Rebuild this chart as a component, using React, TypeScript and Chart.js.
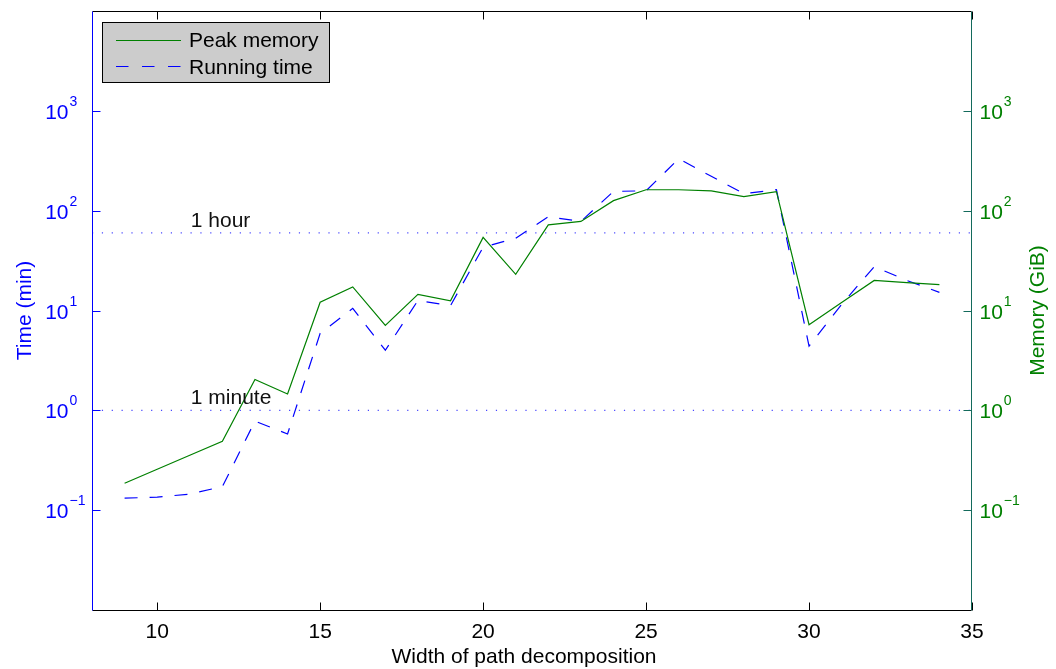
import { useEffect, useRef } from "react";
import { Chart, registerables } from "chart.js";

Chart.register(...registerables);

// Width of the path decomposition (x values)
const widths = [9, 10, 11, 12, 13, 14, 15, 16, 17, 18, 19, 20, 21, 22, 23, 24, 25, 26, 27, 28, 29, 30, 31, 32, 33, 34];

// Running time in minutes
const runningTime = [
  0.132, 0.135, 0.145, 0.172, 0.78, 0.58, 5.9, 10.5, 4.0, 12.6, 11.2, 43, 53, 87, 78,
  156, 158, 331, 221, 148, 162, 4.4, 11.5, 27.5, 20, 15.2,
];

// Peak memory in GiB
const peakMemory = [
  0.186, 0.257, 0.355, 0.49, 2.04, 1.46, 12.1, 17.2, 7.1, 14.5, 12.5, 54, 23, 72, 78,
  126, 162, 162, 158, 138, 155, 7.2, 12, 20, 19, 18.2,
];

const xTicks = [10, 15, 20, 25, 30, 35];
const yTicks = [0.1, 1, 10, 100, 1000];
const yExponents = ["\u22121", "0", "1", "2", "3"];

// Reference levels on the time axis (minutes)
const thresholdValues = [60, 1];
const thresholdLabels = ["1 hour", "1 minute"];

const seriesLabels = ["Peak memory", "Running time"];
const GREEN = "#008000";
const BLUE = "#0000ff";
const TEAL = "#136a5c";
const FONT = '"Liberation Sans", Arial, Helvetica, sans-serif';

const axesFrame = {
  id: "axesFrame",
  afterDraw(chart: any) {
    const { ctx, chartArea: a, scales } = chart;
    const xs = scales.x;
    const yl = scales.yTime;
    const yr = scales.yMem;
    const L = Math.round(a.left) + 0.5;
    const R = Math.round(a.right) - 0.5;
    const T = Math.round(a.top) + 0.5;
    const B = Math.round(a.bottom) + 0.5;
    const midY = (a.top + a.bottom) / 2;

    const seg = (x1: number, y1: number, x2: number, y2: number) => {
      ctx.beginPath();
      ctx.moveTo(x1, y1);
      ctx.lineTo(x2, y2);
      ctx.stroke();
    };

    ctx.save();
    ctx.lineWidth = 1;
    ctx.setLineDash([]);

    // top and bottom frame with inward x ticks
    ctx.strokeStyle = "#000";
    seg(L, T, R, T);
    seg(L, B, R, B);
    xTicks.forEach((v) => {
      const px = Math.round(xs.getPixelForValue(v)) + 0.5;
      seg(px, B, px, B - 8);
      seg(px, T, px, T + 8);
    });

    // left (time) and right (memory) axes with inward ticks
    ctx.strokeStyle = BLUE;
    seg(L, T, L, B);
    yTicks.forEach((v) => {
      const py = Math.round(yl.getPixelForValue(v)) + 0.5;
      seg(L, py, L + 8, py);
    });
    ctx.strokeStyle = TEAL;
    seg(R, T, R, B);
    yTicks.forEach((v) => {
      const py = Math.round(yr.getPixelForValue(v)) + 0.5;
      seg(R, py, R - 8, py);
    });

    // x tick labels
    ctx.fillStyle = "#000";
    ctx.font = `21px ${FONT}`;
    ctx.textAlign = "center";
    ctx.textBaseline = "alphabetic";
    xTicks.forEach((v) => {
      ctx.fillText(String(v), xs.getPixelForValue(v), B + 27);
    });
    ctx.fillText("Width of path decomposition", (a.left + a.right) / 2 - 8, B + 52);

    // y tick labels as powers of ten
    yTicks.forEach((v, i) => {
      const pl = yl.getPixelForValue(v);
      ctx.fillStyle = BLUE;
      ctx.font = `21px ${FONT}`;
      ctx.textAlign = "right";
      ctx.fillText("10", L - 24, pl + 8);
      ctx.font = `14px ${FONT}`;
      ctx.textAlign = "left";
      ctx.fillText(yExponents[i], L - 23, pl - 5);

      const pr = yr.getPixelForValue(v);
      ctx.fillStyle = GREEN;
      ctx.font = `21px ${FONT}`;
      ctx.textAlign = "left";
      ctx.fillText("10", R + 8, pr + 8);
      const w = ctx.measureText("10").width;
      ctx.font = `14px ${FONT}`;
      ctx.fillText(yExponents[i], R + 9 + w, pr - 5);
    });

    // axis titles
    ctx.font = `21px ${FONT}`;
    ctx.textAlign = "center";
    ctx.save();
    ctx.translate(31, midY);
    ctx.rotate(-Math.PI / 2);
    ctx.fillStyle = BLUE;
    ctx.fillText("Time (min)", 0, 0);
    ctx.restore();
    ctx.save();
    ctx.translate(R + 72, midY);
    ctx.rotate(-Math.PI / 2);
    ctx.fillStyle = GREEN;
    ctx.fillText("Memory (GiB)", 0, 0);
    ctx.restore();

    // reference level captions
    ctx.fillStyle = "#111";
    ctx.textAlign = "left";
    thresholdValues.forEach((v, i) => {
      ctx.fillText(thresholdLabels[i], xs.getPixelForValue(11) + 1, yl.getPixelForValue(v) - 6);
    });

    // legend box
    const lx = 102.5, ly = 22.5, lw = 227, lh = 60;
    ctx.fillStyle = "#cccccc";
    ctx.fillRect(lx, ly, lw, lh);
    ctx.strokeStyle = "#000";
    ctx.strokeRect(lx, ly, lw, lh);
    const rows = [40.5, 66.5];
    ctx.lineWidth = 1.2;
    ctx.strokeStyle = GREEN;
    seg(116, rows[0], 181, rows[0]);
    ctx.strokeStyle = BLUE;
    ctx.setLineDash([12.5, 13.5]);
    seg(116, rows[1], 181, rows[1]);
    ctx.setLineDash([]);
    ctx.fillStyle = "#000";
    ctx.font = `21px ${FONT}`;
    ctx.textAlign = "left";
    ctx.fillText(seriesLabels[0], 189, 47);
    ctx.fillText(seriesLabels[1], 189, 74);

    ctx.restore();
  },
};

export default function App() {
  const canvasRef = useRef<HTMLCanvasElement | null>(null);

  useEffect(() => {
    const canvas = canvasRef.current;
    if (!canvas) return;

    const thresholdSets = thresholdValues.map((v, i) => ({
      label: thresholdLabels[i],
      data: [
        { x: 8, y: v },
        { x: 35, y: v },
      ],
      yAxisID: "yTime",
      borderColor: "rgba(40,40,255,0.85)",
      borderWidth: 1.2,
      borderDash: [1.2, 8.65],
      pointRadius: 0,
      fill: false,
    }));

    const chart = new Chart(canvas, {
      type: "line",
      data: {
        datasets: [
          ...thresholdSets,
          {
            label: seriesLabels[0],
            data: widths.map((w, i) => ({ x: w, y: peakMemory[i] })),
            yAxisID: "yMem",
            borderColor: GREEN,
            borderWidth: 1.2,
            pointRadius: 0,
            fill: false,
            tension: 0,
          },
          {
            label: seriesLabels[1],
            data: widths.map((w, i) => ({ x: w, y: runningTime[i] })),
            yAxisID: "yTime",
            borderColor: BLUE,
            borderWidth: 1.2,
            borderDash: [13, 12],
            pointRadius: 0,
            fill: false,
            tension: 0,
          },
        ],
      },
      options: {
        responsive: false,
        animation: false,
        devicePixelRatio: 1,
        layout: { padding: { left: 92, right: 84, top: 11, bottom: 59 } },
        plugins: {
          legend: { display: false },
          tooltip: { enabled: false },
        },
        scales: {
          x: { type: "linear", display: false, min: 8, max: 35 },
          yTime: { type: "logarithmic", display: false, position: "left", min: 0.01, max: 10000 },
          yMem: { type: "logarithmic", display: false, position: "right", min: 0.01, max: 10000 },
        },
      },
      plugins: [axesFrame],
    });

    return () => chart.destroy();
  }, []);

  return (
    <div style={{ position: "fixed", left: 0, top: 0, width: 1056, height: 669, background: "#fff" }}>
      <canvas ref={canvasRef} width={1056} height={669} style={{ width: 1056, height: 669, display: "block" }} />
    </div>
  );
}
